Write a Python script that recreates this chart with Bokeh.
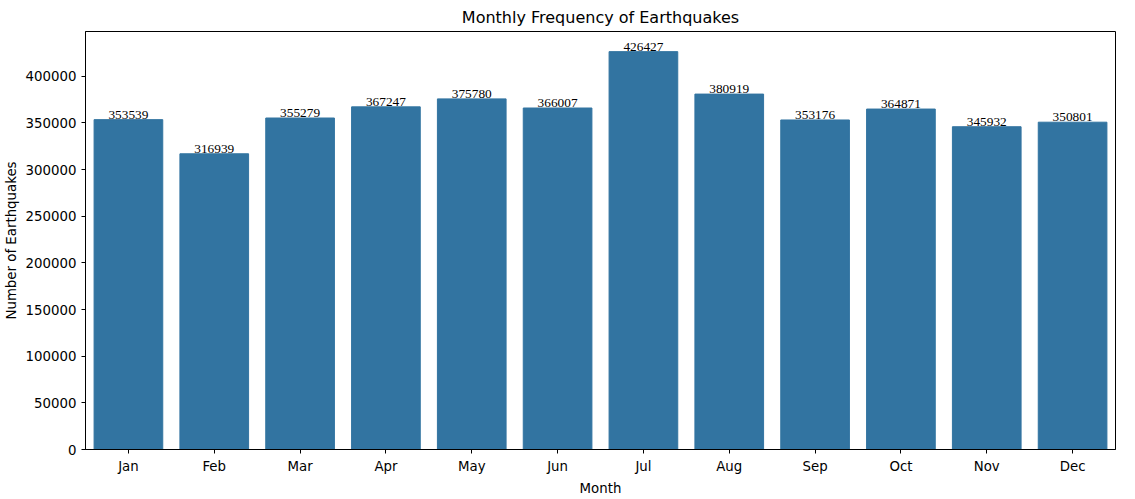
from bokeh.plotting import figure
from bokeh.models import ColumnDataSource, Range1d, LabelSet
from bokeh.embed import file_html
from bokeh.resources import INLINE

months = ["Jan", "Feb", "Mar", "Apr", "May", "Jun", "Jul", "Aug", "Sep", "Oct", "Nov", "Dec"]
counts = [353539, 316939, 355279, 367247, 375780, 366007, 426427, 380919, 353176, 364871, 345932, 350801]

source = ColumnDataSource(dict(month=months, count=counts, label=[str(c) for c in counts]))

p = figure(x_range=months, frame_width=1030, frame_height=418, output_backend="svg", toolbar_location=None,
           title="Monthly Frequency of Earthquakes", min_border_left=10, min_border_right=4,
           min_border_bottom=0, min_border_top=0)
p.y_range = Range1d(0, 448000)
p.vbar(x="month", top="count", width=0.8, source=source, color="#3274a1")
p.add_layout(LabelSet(x="month", y="count", text="label", source=source, text_align="center",
                      text_baseline="bottom", y_offset=1, text_font_size="10pt", text_color="black",
                      text_font="DejaVu Sans"))

p.title.align = "center"
p.title.text_font_size = "12pt"
p.title.text_font_style = "normal"
p.title.text_font = "DejaVu Sans"
p.title.text_color = "black"
p.xaxis.axis_label = "Month"
p.yaxis.axis_label = "Number of Earthquakes"
for ax in (p.xaxis, p.yaxis):
    ax.axis_label_text_font_style = "normal"
    ax.axis_label_text_font_size = "10pt"
    ax.axis_label_text_font = "DejaVu Sans"
    ax.axis_label_standoff = 4
    ax.major_label_text_font = "DejaVu Sans"
    ax.major_label_text_font_size = "10pt"
    ax.minor_tick_line_color = None
    ax.major_tick_in = 0
    ax.major_tick_out = 4
    ax.axis_line_color = "black"
    ax.major_tick_line_color = "black"
    ax.major_label_text_color = "black"
    ax.axis_label_text_color = "black"
p.yaxis.ticker = list(range(0, 450000, 50000))
p.yaxis.formatter.use_scientific = False
p.xgrid.grid_line_color = None
p.ygrid.grid_line_color = None
p.outline_line_color = "black"
p.x_range.range_padding = 0.0
p.x_range.factor_padding = 0.0

open("out.html", "w").write(file_html(p, INLINE))
